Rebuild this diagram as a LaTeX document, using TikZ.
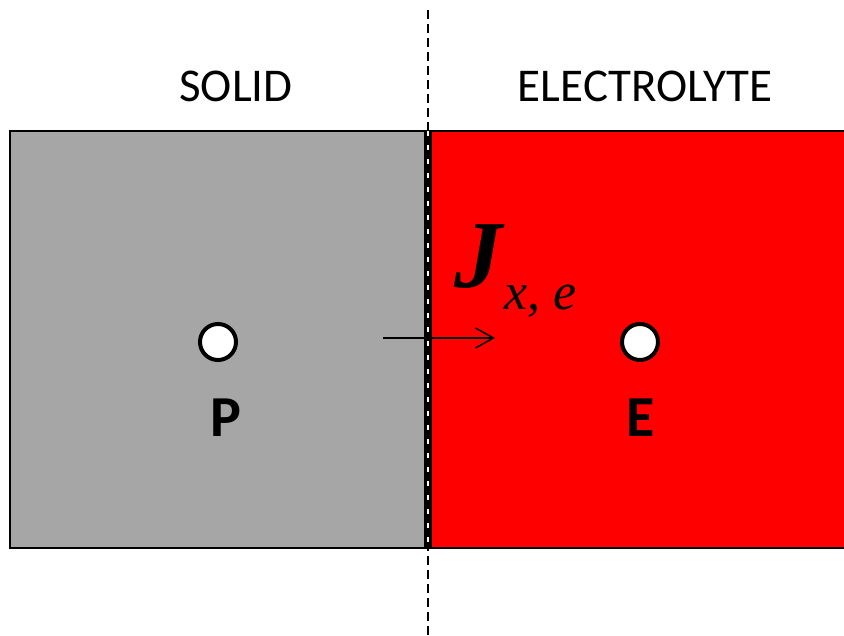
\documentclass[tikz,border=0pt]{standalone}
\usepackage{fontspec}
\setmainfont{Carlito}
\newfontfamily\eqfont{Liberation Serif}
\usepackage{xcolor}
\usetikzlibrary{arrows.meta, positioning, calc}
\definecolor{solidgray}{RGB}{166,166,166}
\definecolor{elecred}{RGB}{255,0,0}

\begin{document}
\begin{tikzpicture}[x=1pt, y=-1pt,
    region/.style={draw=black, line width=2.5pt},
    pnt/.style={circle, draw=black, fill=white, line width=4pt, minimum size=36pt, inner sep=0pt},
    lbl/.style={font=\fontsize{47}{50}\selectfont, inner sep=0pt, anchor=base},
    ptlbl/.style={font=\fontsize{58}{62}\selectfont\bfseries, inner sep=0pt, anchor=base}]
    \useasboundingbox (0,0) rectangle (844,636);
    % the two domains
    \filldraw[region, fill=solidgray] (10,131) rectangle (425.3,548);
    \filldraw[region, fill=elecred] (430.5,131) rectangle (860,548);
    % interface
    \draw[line width=1.5pt, dash pattern=on 9pt off 5pt] (428,10) -- (428,636);
    \node[lbl] (solid) at (236,102) {SOLID};
    \node[lbl] (elec) at (645,102) {ELECTROLYTE};
    % cell centres
    \node[pnt] (P) at (218,342) {};
    \node[pnt] (E) at (640,342) {};
    \node[ptlbl] (Plab) at (226,437) {P};
    \node[ptlbl] (Elab) at (641,437) {E};
    % flux across the face
    \coordinate (fluxA) at (383,338);
    \coordinate (fluxB) at (495,338);
    \draw[line width=1.5pt, -{Straight Barb[length=18pt, width=20pt]}] (fluxA) -- (fluxB);
    \node[font=\eqfont\fontsize{96}{100}\selectfont\bfseries\itshape, inner sep=0pt, anchor=base west] (J) at (454,288) {J};
    \node[font=\eqfont\fontsize{52}{56}\selectfont\itshape, inner sep=0pt, anchor=base west] (Jsub) at (504,310) {x, e};
\end{tikzpicture}
\end{document}
